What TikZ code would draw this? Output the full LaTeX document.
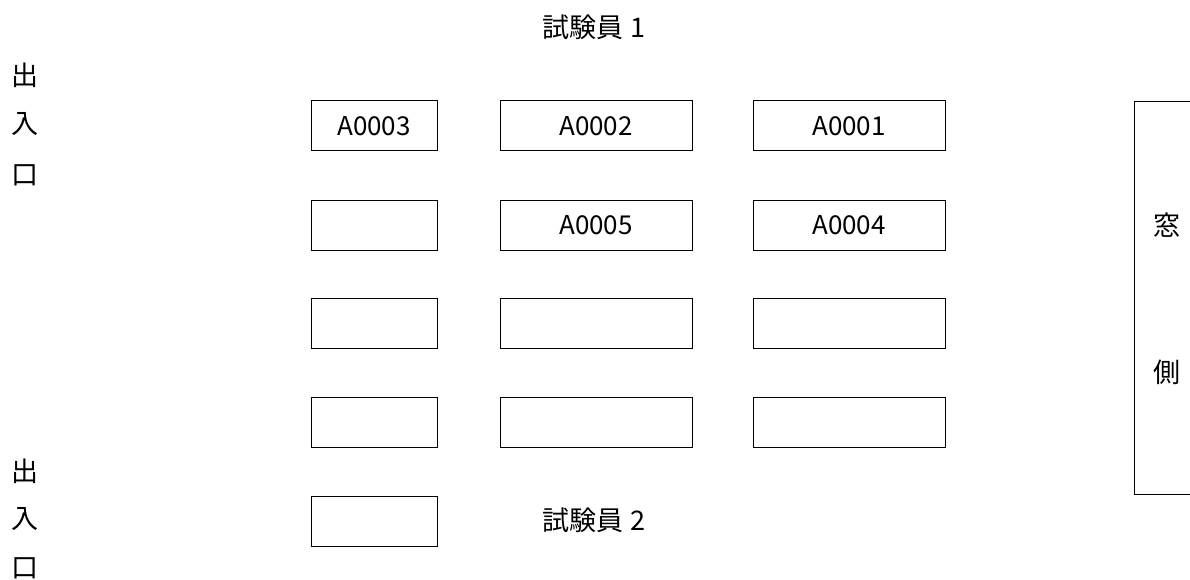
\documentclass[tikz,border=0pt]{standalone}
\usepackage{fontspec}
\setmainfont{Noto Sans CJK JP}
\begin{document}
\begin{tikzpicture}[x=1pt,y=-1pt,
  seat/.style={draw=black,line width=1pt,minimum height=50pt,inner sep=0pt,font=\fontsize{26}{26}\selectfont},
  narrow/.style={seat,minimum width=126pt},
  wide/.style={seat,minimum width=192pt},
  lbl/.style={inner sep=0pt,font=\fontsize{27}{27}\selectfont}]
\useasboundingbox (0,0) rectangle (1190,580);
% title labels
\node[lbl] (t1) at (594,27) {試験員 1};
\node[lbl] (t2) at (594,520) {試験員 2};
% entrances
\node[lbl] (e1a) at (25,75) {出};
\node[lbl] (e1b) at (25,124) {入};
\node[lbl] (e1c) at (25,175) {口};
\node[lbl] (e2a) at (25,471) {出};
\node[lbl] (e2b) at (25,519) {入};
\node[lbl] (e2c) at (25,568) {口};
% seats
\node[narrow] (s11) at (374,126) {A0003};
\node[wide] (s12) at (596,126) {A0002};
\node[wide] (s13) at (849,126) {A0001};
\node[narrow] (s21) at (374,225) {};
\node[wide] (s22) at (596,225) {A0005};
\node[wide] (s23) at (849,225) {A0004};
\node[narrow] (s31) at (374,323) {};
\node[wide] (s32) at (596,323) {};
\node[wide] (s33) at (849,323) {};
\node[narrow] (s41) at (374,422) {};
\node[wide] (s42) at (596,422) {};
\node[wide] (s43) at (849,422) {};
\node[narrow] (s51) at (374,521) {};
% window side
\draw[line width=1pt] (1191,101.5) -- (1134.5,101.5) -- (1134.5,494.5) -- (1191,494.5);
\node[lbl] (w1) at (1167,225) {窓};
\node[lbl] (w2) at (1167,372) {側};
\end{tikzpicture}
\end{document}
